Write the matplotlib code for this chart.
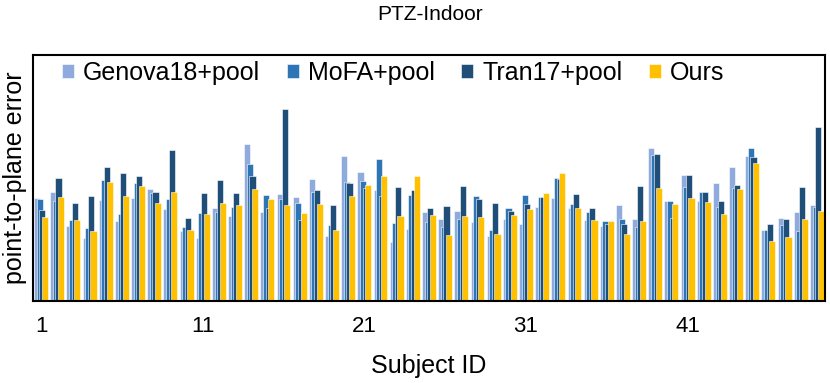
import numpy as np
import matplotlib.pyplot as plt

plt.rcParams['font.family'] = ['Liberation Sans', 'DejaVu Sans']

subjects = np.arange(1, 50)
series_names = ['Genova18+pool', 'MoFA+pool', 'Tran17+pool', 'Ours']
colors = ['#8faadc', '#2e75b6', '#1f4e79', '#ffc000']

genova = [1.03, 1.09, 0.75, 0.63, 1.01, 0.80, 1.03, 1.12, 0.92, 0.70,
          0.63, 0.93, 0.85, 1.57, 0.89, 1.07, 1.04, 1.22, 0.65, 1.45,
          1.29, 1.11, 0.59, 0.72, 0.89, 0.82, 0.90, 0.79, 0.65, 0.82,
          0.77, 0.94, 1.03, 0.93, 0.81, 0.75, 0.96, 0.82, 1.53, 1.00,
          1.26, 1.00, 1.18, 1.34, 1.45, 0.71, 0.83, 0.89, 0.96]
mofa = [1.02, 1.00, 0.81, 0.73, 1.21, 0.87, 1.18, 1.08, 1.02, 0.74,
        0.88, 0.89, 0.94, 1.37, 1.06, 1.02, 0.98, 1.09, 0.76, 1.19,
        1.20, 1.42, 0.78, 1.06, 0.79, 0.74, 0.82, 1.05, 0.71, 0.93,
        1.06, 1.04, 1.23, 0.97, 0.89, 0.80, 0.82, 0.74, 1.46, 1.00,
        1.14, 1.09, 0.94, 1.13, 1.53, 0.71, 0.76, 0.70, 0.94]
tran = [0.91, 1.23, 0.98, 1.05, 1.34, 1.28, 1.25, 1.09, 1.51, 0.83,
        1.08, 1.21, 1.08, 1.25, 0.93, 1.92, 0.81, 1.11, 0.96, 1.18,
        1.13, 1.05, 1.14, 1.11, 0.93, 0.95, 1.15, 1.02, 0.98, 0.90,
        0.97, 1.04, 1.22, 1.07, 0.93, 0.77, 0.77, 1.15, 1.47, 0.83,
        1.26, 1.09, 1.00, 1.16, 1.44, 0.77, 0.82, 1.14, 1.74]
ours = [0.84, 1.04, 0.81, 0.70, 1.19, 1.05, 1.15, 0.98, 1.09, 0.71,
        0.87, 0.98, 0.96, 1.12, 1.02, 0.96, 0.88, 0.97, 0.71, 1.05,
        1.16, 1.25, 0.85, 1.25, 0.86, 0.66, 0.85, 0.84, 0.67, 0.86,
        0.92, 1.08, 1.28, 0.93, 0.81, 0.80, 0.67, 0.80, 1.13, 0.97,
        1.03, 0.99, 0.87, 1.12, 1.38, 0.60, 0.64, 0.82, 0.90]
tick_ids = [1, 11, 21, 31, 41]

fig = plt.figure(figsize=(8.3, 3.83), dpi=100)
ax = fig.add_axes([33/830, 1-301/383, 792/830, 246/383])

offsets = [-0.24, -0.08, 0.08, 0.24]
for vals, off, c, name in zip([genova, mofa, tran, ours], offsets, colors, series_names):
    ax.bar(subjects + off, vals, width=0.38, color=c, edgecolor='white',
           linewidth=0.4, label=name)

ax.set_xlim(0.5, 49.5)
ax.set_ylim(0, 2.46)
ax.set_xticks(tick_ids)
ax.set_xticklabels([str(t) for t in tick_ids], fontsize=16)
ax.tick_params(axis='x', length=0, pad=11)
ax.set_yticks([])
for s in ax.spines.values():
    s.set_linewidth(1.5)
    s.set_color('black')

ax.set_xlabel('Subject ID', fontsize=18, labelpad=12)
ax.set_ylabel('point-to-plane error', fontsize=18, labelpad=4)
fig.text(0.518, 1-14/383, 'PTZ-Indoor', ha='center', va='center', fontsize=15)

ax.legend(loc='center left', bbox_to_anchor=(0.0366, 0.927), ncol=4, frameon=False,
          fontsize=18, handlelength=0.5, handleheight=0.5, handletextpad=0.35,
          columnspacing=1.05, borderaxespad=0, borderpad=0)

fig.savefig('out.png', dpi=100)
